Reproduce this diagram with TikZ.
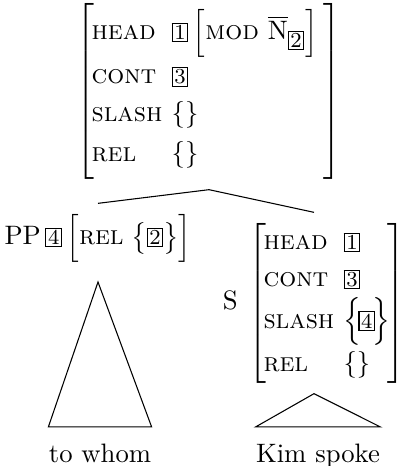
\documentclass[tikz,border=0pt]{standalone}
\usepackage{amsmath}
\usepackage{amssymb}

\delimitershortfall=0pt
\newcommand{\tagbox}[1]{{\setlength{\fboxsep}{0.6pt}\fbox{\footnotesize #1}}}
\newcommand{\avm}[1]{$\left[\hspace{-1pt}\begin{tabular}{@{}l@{\hspace{3.5pt}}l@{}}#1\end{tabular}\hspace{-1pt}\right]$}

\begin{document}
\begin{tikzpicture}[x=0.375pt, y=-0.375pt,
  avm/.style = {inner sep=0pt, outer ysep=4pt},
  leaf/.style = {inner xsep=0pt, inner ysep=6pt}]
\useasboundingbox (0,0) rectangle (400,466);
\node[avm] (top) at (209,91) {\renewcommand{\arraystretch}{1.18}\avm{%
  \textsc{head} & \tagbox{1}\,$\Bigl[\textsc{mod}\ \overline{\mathrm{N}}_{\tagbox{2}}\Bigr]\hspace{3pt}$ \\
  \textsc{cont} & \tagbox{3} \\
  \textsc{slash} & $\{\}$ \\[1pt]
  \textsc{rel} & $\{\}$}};
\node[avm] (pp) at (98,238) {PP\,\tagbox{4}\,$\Bigl[\textsc{rel}\;\bigl\{\tagbox{2}\bigr\}\Bigr]$};
\node[avm] (s) at (314,303) {S\hspace{4pt}\renewcommand{\arraystretch}{1.15}\avm{%
  \textsc{head} & \tagbox{1} \\
  \textsc{cont} & \tagbox{3} \\
  \textsc{slash} & $\Bigl\{\mskip-2mu\tagbox{4}\mskip-2mu\Bigr\}$ \\[1pt]
  \textsc{rel} & $\{\}$}};
\node[leaf, anchor=base] (tw) at (100,462) {to whom};
\node[leaf, anchor=base] (ks) at (318,462) {Kim spoke};
% tree
\draw (top.south) -- (pp.north);
\draw (top.south) -- (s.north);
\draw ([yshift=-3.5pt]pp.south) -- (tw.north west) -- (tw.north east) -- cycle;
\draw (s.south) -- (ks.north west) -- (ks.north east) -- cycle;
\end{tikzpicture}
\end{document}
